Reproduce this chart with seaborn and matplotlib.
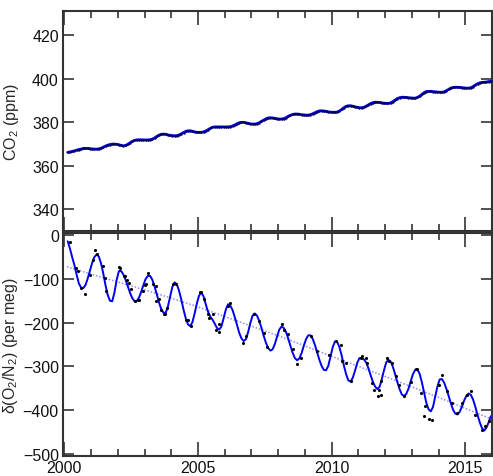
import numpy as np
import pandas as pd
import matplotlib
matplotlib.use("Agg")
import matplotlib.pyplot as plt
import seaborn as sns
from matplotlib.ticker import MultipleLocator

# ---------------- data ----------------
years = list(range(2000, 2016))
# monthly CO2 (ppm); 2000 starts in February
co2_2000 = [366.1, 366.3, 366.5, 366.8, 367.1, 367.4, 367.6, 367.9, 367.9, 367.9, 367.8]
co2_by_year = {
    2001: [367.7, 367.6, 367.6, 367.7, 368.0, 368.5, 369.0, 369.4, 369.7, 369.9, 369.9, 369.8],
    2002: [369.6, 369.3, 369.1, 369.3, 369.8, 370.5, 371.1, 371.6, 371.8, 371.9, 371.9, 371.8],
    2003: [371.8, 371.8, 371.9, 372.2, 372.7, 373.4, 374.0, 374.4, 374.5, 374.4, 374.1, 373.9],
    2004: [373.8, 373.7, 373.8, 374.1, 374.6, 375.2, 375.7, 376.0, 376.0, 375.8, 375.5, 375.3],
    2005: [375.3, 375.3, 375.5, 375.9, 376.5, 377.1, 377.6, 377.8, 377.8, 377.8, 377.8, 377.8],
    2006: [377.8, 377.8, 377.9, 378.2, 378.7, 379.2, 379.7, 379.9, 379.9, 379.7, 379.4, 379.2],
    2007: [379.1, 379.1, 379.3, 379.7, 380.3, 380.9, 381.5, 381.9, 382.0, 381.9, 381.7, 381.5],
    2008: [381.4, 381.4, 381.6, 382.0, 382.6, 383.1, 383.5, 383.7, 383.7, 383.6, 383.4, 383.3],
    2009: [383.2, 383.2, 383.4, 383.8, 384.3, 384.8, 385.1, 385.2, 385.1, 384.9, 384.7, 384.6],
    2010: [384.5, 384.5, 384.6, 385.1, 385.8, 386.6, 387.2, 387.5, 387.5, 387.3, 387.0, 386.8],
    2011: [386.6, 386.6, 386.8, 387.3, 387.9, 388.5, 388.9, 389.1, 389.1, 389.0, 388.8, 388.7],
    2012: [388.6, 388.6, 388.8, 389.4, 390.1, 390.8, 391.2, 391.4, 391.4, 391.3, 391.2, 391.1],
    2013: [391.0, 391.0, 391.3, 391.9, 392.7, 393.5, 394.0, 394.1, 394.1, 394.0, 393.9, 393.8],
    2014: [393.7, 393.7, 393.9, 394.4, 395.0, 395.6, 395.9, 396.0, 396.0, 395.9, 395.8, 395.7],
    2015: [395.6, 395.6, 395.8, 396.3, 397.0, 397.6, 398.0, 398.2, 398.3, 398.4, 398.6, 398.7],
}

# smoothed O2/N2 fit (per meg), monthly; 2000 starts in February
o2fit_2000 = [-14, -30, -50, -68, -90, -110, -120, -121, -114, -99, -81]
o2fit_by_year = {
    2001: [-63, -50, -44, -49, -65, -88, -115, -137, -150, -151, -131, -102],
    2002: [-82, -82, -90, -102, -117, -132, -144, -151, -151, -143, -130, -114],
    2003: [-100, -93, -93, -102, -117, -135, -154, -169, -177, -178, -163, -140],
    2004: [-118, -108, -112, -127, -147, -170, -190, -204, -208, -199, -179, -156],
    2005: [-138, -131, -140, -158, -175, -186, -193, -202, -212, -216, -209, -190],
    2006: [-170, -158, -161, -171, -187, -205, -223, -236, -242, -238, -222, -201],
    2007: [-184, -179, -184, -196, -212, -230, -246, -258, -264, -261, -249, -232],
    2008: [-216, -209, -212, -221, -236, -253, -269, -281, -286, -282, -270, -253],
    2009: [-238, -229, -229, -237, -251, -268, -285, -299, -308, -309, -299, -278],
    2010: [-256, -243, -244, -256, -275, -298, -318, -332, -335, -326, -310, -292],
    2011: [-281, -281, -284, -291, -304, -320, -335, -346, -352, -347, -330, -309],
    2012: [-291, -285, -289, -301, -318, -336, -352, -364, -368, -363, -351, -334],
    2013: [-318, -308, -307, -317, -336, -360, -383, -398, -403, -393, -370, -346],
    2014: [-330, -329, -337, -351, -367, -384, -399, -408, -410, -404, -392, -378],
    2015: [-367, -362, -365, -376, -392, -411, -428, -441, -447, -440, -428, -414],
}

# individual O2/N2 flask observations
obs_time = [2000.21, 2000.42, 2000.51, 2000.64, 2000.76, 2000.95, 2001.07, 2001.13, 2001.24,
            2001.43, 2001.51, 2001.57, 2002.04, 2002.07, 2002.22, 2002.27, 2002.36, 2002.41,
            2002.51, 2002.63, 2002.75, 2002.79, 2002.94, 2003.00, 2003.07, 2003.13, 2003.31,
            2003.44, 2003.44, 2003.56, 2003.63, 2003.71, 2003.78, 2003.84, 2004.06, 2004.19,
            2004.56, 2004.62, 2004.75, 2005.06, 2005.12, 2005.24, 2005.37, 2005.43, 2005.58,
            2005.68, 2005.77, 2005.80, 2006.11, 2006.18, 2006.67, 2006.80, 2007.11, 2007.29,
            2007.48, 2007.60, 2008.14, 2008.23, 2008.35, 2008.54, 2008.69, 2008.85, 2009.22,
            2009.47, 2009.91, 2010.16, 2010.34, 2010.40, 2010.53, 2010.72, 2011.09, 2011.15,
            2011.28, 2011.34, 2011.52, 2011.59, 2011.75, 2011.77, 2011.84, 2011.84, 2012.08,
            2012.14, 2012.27, 2012.40, 2012.52, 2012.71, 2012.96, 2013.14, 2013.20, 2013.33,
            2013.45, 2013.51, 2013.64, 2013.76, 2014.01, 2014.13, 2014.32, 2014.51, 2014.69,
            2014.88, 2015.07, 2015.20, 2015.38, 2015.63, 2015.75, 2015.89]
obs_value = [-15, -76, -81, -121, -134, -90, -56, -33, -44,
             -71, -98, -127, -73, -76, -93, -94, -102, -109,
             -124, -151, -148, -149, -128, -113, -112, -86, -112,
             -116, -151, -147, -170, -181, -180, -166, -112, -112,
             -193, -193, -208, -131, -131, -147, -181, -189, -181,
             -216, -222, -204, -162, -154, -246, -231, -181, -196,
             -223, -255, -204, -216, -227, -261, -294, -281, -231,
             -265, -273, -242, -250, -288, -292, -334, -281, -277,
             -281, -292, -338, -353, -368, -353, -365, -334, -281,
             -288, -292, -323, -342, -368, -336, -307, -307, -361,
             -414, -391, -420, -422, -342, -319, -357, -384, -407,
             -384, -365, -357, -411, -445, -437, -426]

# long-term trend (per meg)
trend_time = [2000.1, 2001, 2002, 2003, 2004, 2005, 2006, 2007, 2008, 2009,
              2010, 2011, 2012, 2013, 2014, 2015, 2015.96]
trend_value = [-72, -89, -107, -125, -144, -164, -186, -208, -230, -253,
               -277, -300, -323, -347, -371, -396, -420]

# ---------------- build tables ----------------
month_mid = [(m - 0.5) / 12 for m in range(1, 13)]
co2_t = [2000 + mm for mm in month_mid[1:]]
co2_v = list(co2_2000)
o2_t = [2000 + mm for mm in month_mid[1:]]
o2_v = list(o2fit_2000)
for y in years[1:]:
    co2_t += [y + mm for mm in month_mid]
    co2_v += co2_by_year[y]
    o2_t += [y + mm for mm in month_mid]
    o2_v += o2fit_by_year[y]
co2_df = pd.DataFrame({"t": co2_t, "v": co2_v})
o2_df = pd.DataFrame({"t": o2_t, "v": o2_v})
obs_df = pd.DataFrame({"t": obs_time, "v": obs_value})
trend_df = pd.DataFrame({"t": trend_time, "v": trend_value})

# ---------------- style ----------------
sns.set_theme(style="white")
plt.rcParams["font.family"] = ["Liberation Sans", "DejaVu Sans"]
plt.rcParams["mathtext.default"] = "regular"
plt.rcParams["font.size"] = 11.5

fig = plt.figure(figsize=(4.93, 4.77), dpi=100)
ax1 = fig.add_axes([63 / 493, 1 - 232 / 477, (492 - 63) / 493, (232 - 12) / 477])
ax2 = fig.add_axes([63 / 493, 1 - 457 / 477, (492 - 63) / 493, (457 - 234) / 477])

blue = "#0000ee"

# top panel
sns.lineplot(data=co2_df, x="t", y="v", ax=ax1, color=blue, linewidth=2.0)
sns.scatterplot(data=co2_df, x="t", y="v", ax=ax1, color="#000050", s=3, linewidth=0, zorder=3)
ax1.set_ylim(330, 431)
ax1.set_ylabel("CO$_2$ (ppm)", fontsize=11.5, labelpad=8)
ax1.yaxis.set_major_locator(MultipleLocator(20))

# bottom panel
sns.lineplot(data=trend_df, x="t", y="v", ax=ax2, color="#8c8cff", linewidth=1.1,
             linestyle=(0, (1, 1.2)))
sns.lineplot(data=o2_df, x="t", y="v", ax=ax2, color=blue, linewidth=1.4)
sns.scatterplot(data=obs_df, x="t", y="v", ax=ax2, color="black", s=5, linewidth=0, zorder=4)
ax2.set_ylim(-505, 5)
ax2.set_ylabel("δ(O$_2$/N$_2$) (per meg)", fontsize=11.5, labelpad=2)
ax2.yaxis.set_major_locator(MultipleLocator(100))

for ax in (ax1, ax2):
    ax.set_xlim(1999.95, 2016.0)
    ax.xaxis.set_major_locator(MultipleLocator(5))
    ax.xaxis.set_minor_locator(MultipleLocator(1))
    ax.set_xlabel("")
    for s in ax.spines.values():
        s.set_color("#333333")
        s.set_linewidth(1.5)
    ax.tick_params(axis="both", which="major", direction="in", width=1.2,
                   color="#333333", top=True, right=True, bottom=True, left=True,
                   labelsize=11.5, labelcolor="#111111", pad=3)
    ax.tick_params(axis="x", which="major", length=10)
    ax.tick_params(axis="y", which="major", length=8)
    ax.tick_params(axis="x", which="minor", direction="in", length=5, width=1.2,
                   color="#333333", top=True, bottom=True)

ax1.tick_params(axis="x", labelbottom=False)
ax2.set_xticks([2000, 2005, 2010, 2015])
ax2.set_xticklabels(["2000", "2005", "2010", "2015"])

fig.savefig("out.png", dpi=100)
